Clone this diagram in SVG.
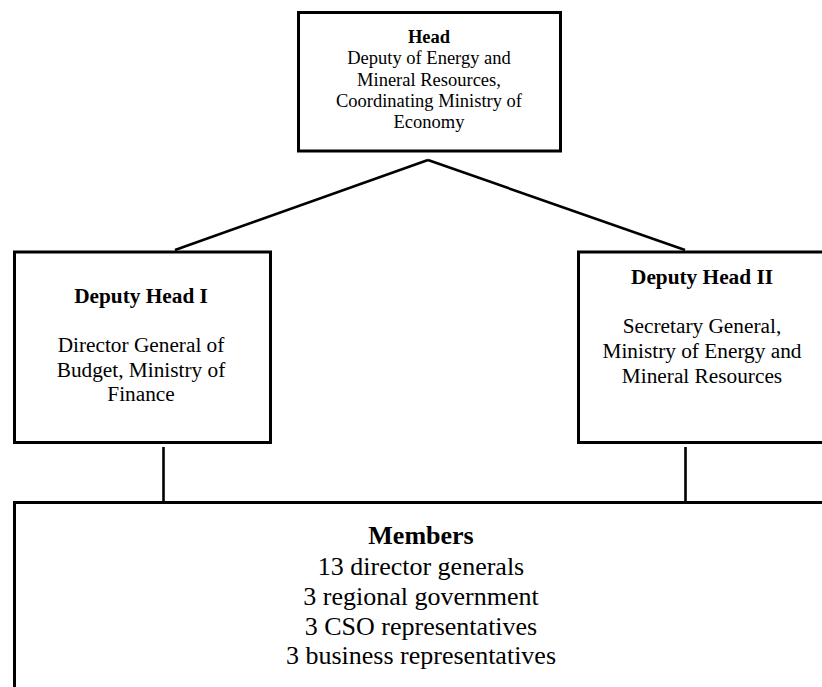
<svg xmlns="http://www.w3.org/2000/svg" width="822" height="687" viewBox="0 0 822 687">
<style>
.box{fill:#fff;stroke:#000;stroke-width:3}
.conn line{stroke:#000;stroke-width:2.6}
text{font-family:"Liberation Serif","Times New Roman",serif;fill:#000;text-anchor:middle}
.b{font-weight:bold}
.s1{font-size:18.5px}
.s2{font-size:21.3px}
.s3{font-size:26px}
</style>
<rect width="822" height="687" fill="#fff"/>
<g id="connectors" class="conn">
<line x1="428" y1="160" x2="175" y2="250"/>
<line x1="428" y1="160" x2="685" y2="250"/>
<line x1="163.5" y1="447" x2="163.5" y2="501"/>
<line x1="685.5" y1="447" x2="685.5" y2="501"/>
</g>
<g id="head">
<rect class="box" x="298.5" y="12.5" width="262" height="138.5"/>
<text class="s1 b" x="429" y="43">Head</text>
<text class="s1" x="429" y="64.3">Deputy of Energy and</text>
<text class="s1" x="429" y="85.6">Mineral Resources,</text>
<text class="s1" x="429" y="107">Coordinating Ministry of</text>
<text class="s1" x="429" y="128.3">Economy</text>
</g>
<g id="deputy1">
<rect class="box" x="14.5" y="252" width="256" height="190.5"/>
<text class="s2 b" x="141" y="303">Deputy Head I</text>
<text class="s2" x="141" y="352">Director General of</text>
<text class="s2" x="141" y="376.5">Budget, Ministry of</text>
<text class="s2" x="141" y="401">Finance</text>
</g>
<g id="deputy2">
<rect class="box" x="578.5" y="252" width="260" height="190.5"/>
<text class="s2 b" x="702" y="284">Deputy Head II</text>
<text class="s2" x="702" y="333">Secretary General,</text>
<text class="s2" x="702" y="358">Ministry of Energy and</text>
<text class="s2" x="702" y="383">Mineral Resources</text>
</g>
<g id="members">
<rect class="box" x="14.5" y="502.5" width="820" height="200"/>
<text class="s3 b" x="421" y="544">Members</text>
<text class="s3" x="421" y="575">13 director generals</text>
<text class="s3" x="421" y="605">3 regional government</text>
<text class="s3" x="421" y="635">3 CSO representatives</text>
<text class="s3" x="421" y="664">3 business representatives</text>
</g>
</svg>
